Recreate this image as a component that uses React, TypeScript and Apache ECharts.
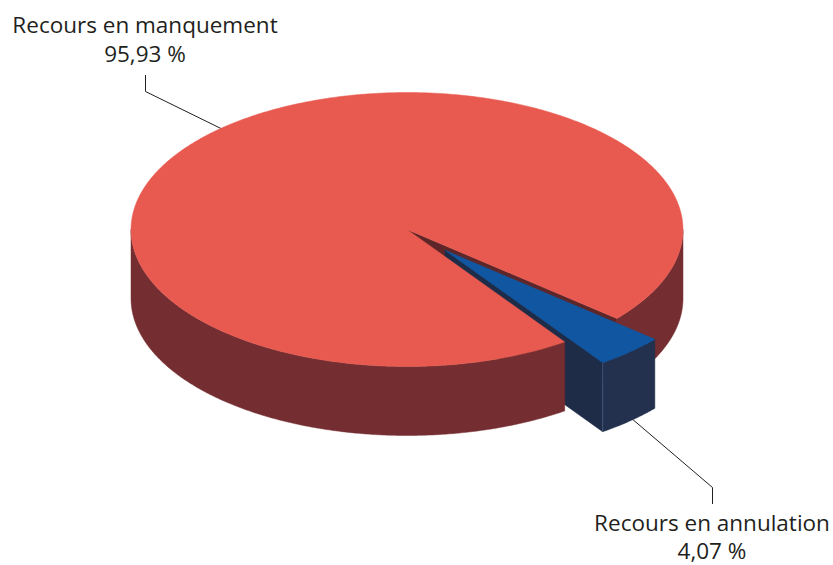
import React, { useEffect, useRef } from "react";
import * as echarts from "echarts";

const categories = ["Recours en manquement", "Recours en annulation"];
const values = [95.93, 4.07];
const valueLabels = ["95,93 %", "4,07 %"];

const TOP_COLORS = ["#E85A50", "#1056A0"];
const SIDE_COLORS = ["#742D30", "#23314F"];
const CUT_COLORS = ["#5E2628", "#1F2C48"];
const EDGE_COLORS = ["#742D30", "#4A5C7E"];
const EXPLODE = [0, 0.205];
const START_DEG = 55.15;
const TEXT_COLOR = "#231F20";
const FONT = '22.5px "Open Sans"';

export default function App() {
  const ref = useRef<HTMLDivElement>(null);
  useEffect(() => {
    const chart = echarts.init(ref.current!, null, { renderer: "svg" });
    const total = values.reduce((a, b) => a + b, 0);
    const TAU = Math.PI * 2;

    const renderItem = (params: any, api: any) => {
      const W = api.getWidth();
      const H = api.getHeight();
      const cx = W * 0.4886;
      const cy = H * 0.4062;
      const rx = W * 0.3313;
      const ry = rx * 0.4964;
      const depth = rx * 0.25;
      const i = params.dataIndex;
      let before = 0;
      for (let k = 0; k < i; k++) before += values[k];
      const a0 = (START_DEG * Math.PI) / 180 + (before / total) * TAU;
      const a1 = a0 + (api.value(0) / total) * TAU;
      const mid = (a0 + a1) / 2;
      const ox = cx + EXPLODE[i] * rx * Math.cos(mid);
      const oy = cy + EXPLODE[i] * ry * Math.sin(mid);
      const pt = (a: number, dz = 0) => [ox + rx * Math.cos(a), oy + ry * Math.sin(a) + dz];
      const arc = (s: number, e: number, dz = 0) => {
        const n = Math.max(2, Math.ceil(Math.abs(e - s) / (Math.PI / 360)));
        const out: number[][] = [];
        for (let j = 0; j <= n; j++) out.push(pt(s + ((e - s) * j) / n, dz));
        return out;
      };
      const children: any[] = [];
      const cut = (a: number) => ({
        type: "polygon",
        z2: 1 + i,
        shape: { points: [[ox, oy], pt(a), pt(a, depth), [ox, oy + depth]] },
        style: { fill: CUT_COLORS[i], stroke: CUT_COLORS[i], lineWidth: 0.5 },
      });
      if (Math.cos(a0) < 0) children.push(cut(a0));
      if (Math.cos(a1) > 0) children.push(cut(a1));
      for (let k = Math.floor(a0 / TAU) - 1; k <= Math.ceil(a1 / TAU); k++) {
        const s = Math.max(a0, k * TAU);
        const e = Math.min(a1, k * TAU + Math.PI);
        if (e > s) {
          children.push({
            type: "polygon",
            z2: 10 + i,
            shape: { points: [...arc(s, e), ...arc(e, s, depth)] },
            style: { fill: SIDE_COLORS[i], stroke: SIDE_COLORS[i], lineWidth: 0.5 },
          });
        }
      }
      if (EXPLODE[i] > 0) {
        const p1 = pt(a1);
        const p2 = pt(a1, depth);
        children.push({
          type: "line",
          z2: 15 + i,
          shape: { x1: p1[0], y1: p1[1], x2: p2[0], y2: p2[1] },
          style: { stroke: EDGE_COLORS[i], lineWidth: 0.8 },
        });
      }
      children.push({
        type: "polygon",
        z2: 20 + i,
        shape: { points: [[ox, oy], ...arc(a0, a1)] },
        style: { fill: TOP_COLORS[i], stroke: TOP_COLORS[i], lineWidth: 0.5 },
      });
      return { type: "group", children };
    };

    const txt = (text: string, x: number, y: number) => ({
      type: "text",
      x,
      y,
      z: 10,
      style: {
        text,
        fill: TEXT_COLOR,
        font: FONT,
        textAlign: "center",
        textVerticalAlign: "middle",
        align: "center",
        verticalAlign: "middle",
      },
    });

    chart.setOption({
      animation: false,
      backgroundColor: "#ffffff",
      graphic: [
        txt(categories[0], 145, 24),
        txt(valueLabels[0], 145, 53.5),
        txt(categories[1], 712, 522.5),
        txt(valueLabels[1], 712, 550.5),
        {
          type: "polyline",
          z: 0,
          shape: { points: [[145.5, 75], [145.5, 91.5], [224, 130]] },
          style: { stroke: TEXT_COLOR, lineWidth: 1, fill: null },
        },
        {
          type: "polyline",
          z: 0,
          shape: { points: [[624, 412], [712.5, 487.5], [712.5, 504]] },
          style: { stroke: TEXT_COLOR, lineWidth: 1, fill: null },
        },
      ],
      series: [
        {
          type: "custom",
          coordinateSystem: "none",
          silent: true,
          z: 5,
          data: values.map((v, i) => ({ value: v, name: categories[i] })),
          renderItem,
        },
      ],
    });
    return () => chart.dispose();
  }, []);
  return (
    <div
      ref={ref}
      style={{ position: "absolute", left: 0, top: 0, width: 833, height: 565 }}
    />
  );
}
